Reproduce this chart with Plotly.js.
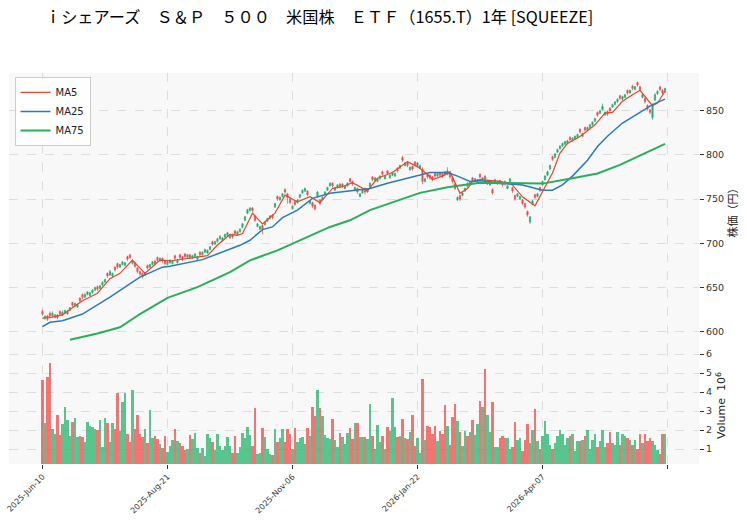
<!DOCTYPE html>
<html>
<head>
<meta charset="utf-8">
<script src="https://cdn.plot.ly/plotly-3.0.1.min.js"></script>
<style>
  html, body { margin: 0; padding: 0; background: #ffffff; }
  #chart { width: 747px; height: 526px; }
</style>
</head>
<body>
<div id="chart"></div>
<script>
// Daily OHLC (yen), one entry per trading day
const openPx = [
623,615,617,621,618,616,619,623,619,621,
620,624,633,629,628,638,642,639,642,641,
644,647,651,649,653,656,666,664,663,673,
677,673,676,675,685,687,677,678,672,668,
666,664,675,673,676,680,684,680,683,680,
676,678,677,686,678,687,685,688,684,687,
683,685,682,690,687,690,689,693,702,699,
702,705,703,707,709,706,710,714,710,713,
718,726,734,737,740,731,719,716,720,721,
725,728,732,741,753,749,753,761,756,750,
739,747,746,752,757,759,759,745,746,743,
753,749,749,755,760,765,768,760,763,767,
764,762,765,773,770,760,762,753,757,762,
758,764,775,771,770,773,781,773,782,774,
777,776,785,785,797,788,791,783,787,792,
788,785,784,770,778,777,775,779,776,780,
779,781,778,779,774,767,749,754,754,759,
768,766,774,770,769,778,771,776,767,766,
761,769,767,771,769,770,762,770,763,754,
753,750,749,745,736,724,744,755,753,763,
766,772,777,784,798,797,803,807,810,812,
813,820,816,818,820,829,821,831,828,831,
834,838,848,847,851,845,849,853,854,857,
860,867,863,865,873,870,878,874,882,877,
865,864,856,851,842,862,869,877,873,871];

const highPx = [
625,619,619,623,623,620,620,624,624,625,
625,628,634,633,632,639,643,644,646,645,
648,651,652,653,657,660,667,670,667,674,
678,677,680,679,686,688,682,679,673,669,
667,668,676,677,680,681,685,684,684,681,
680,682,681,687,682,688,686,689,688,688,
687,689,686,691,691,694,693,697,703,703,
706,709,707,711,713,710,711,715,714,717,
723,731,739,741,741,732,723,720,721,725,
729,732,733,746,754,753,757,762,757,751,
743,748,750,756,761,763,760,749,747,744,
759,750,753,759,764,769,769,764,767,768,
768,766,769,774,771,764,763,757,761,763,
762,769,776,775,774,777,782,777,783,778,
781,780,786,789,799,792,792,787,788,793,
792,789,786,774,779,778,776,780,780,781,
780,782,786,780,775,768,753,755,758,763,
769,770,775,774,773,779,775,777,771,770,
762,773,771,772,770,771,766,774,764,755,
757,754,750,746,737,731,749,756,757,764,
771,777,782,789,799,802,807,811,814,816,
817,821,820,822,824,830,825,832,832,835,
838,842,849,851,858,849,850,854,858,861,
864,868,867,869,874,874,879,878,883,878,
869,865,857,852,858,870,873,878,874,876];

const lowPx = [
618,613,612,616,617,615,614,618,618,620,
619,623,628,628,627,633,637,638,641,640,
643,646,646,648,652,655,661,663,662,668,
671,672,675,674,680,682,676,672,666,663,
660,663,670,672,675,675,679,679,678,675,
675,677,676,681,677,682,680,683,683,682,
682,684,681,685,686,689,688,692,697,698,
701,704,702,706,708,705,705,709,709,712,
717,725,733,736,735,724,718,715,710,720,
724,727,727,740,748,748,752,756,745,744,
738,742,745,751,756,758,753,744,740,737,
752,743,748,754,759,764,763,759,762,762,
763,761,764,768,765,759,756,752,756,755,
757,763,770,770,769,772,776,772,777,773,
776,775,780,784,792,787,786,782,782,787,
787,784,767,769,773,772,770,774,775,775,
774,776,777,773,768,760,748,748,753,758,
763,765,769,769,768,773,770,770,766,765,
755,768,766,766,764,765,761,769,757,748,
752,749,743,739,730,722,743,750,752,758,
765,771,776,783,793,796,802,806,809,811,
812,815,815,817,819,824,820,826,827,830,
833,837,843,846,850,844,844,848,853,856,
859,862,862,864,868,869,873,873,877,872,
864,858,850,846,840,861,868,872,868,870];

const closePx = [
620,617,614,618,621,619,616,620,622,624,
623,627,630,632,631,635,639,642,645,644,
647,650,648,652,656,659,663,668,666,670,
673,676,679,678,682,684,680,674,668,665,
662,667,672,676,679,677,681,683,680,677,
679,681,680,683,681,684,682,685,687,684,
686,688,685,687,690,693,692,696,699,702,
705,708,706,710,712,709,707,711,713,716,
722,730,738,740,737,726,722,719,716,724,
728,731,729,745,750,752,756,758,752,746,
742,744,749,755,760,762,755,748,742,739,
758,745,752,758,763,768,765,763,766,764,
767,765,768,770,767,763,758,756,760,758,
761,768,772,774,773,776,778,776,779,777,
780,779,782,788,794,791,788,786,784,789,
791,788,770,773,775,774,772,776,779,777,
776,778,782,775,770,762,752,750,757,762,
765,769,771,773,772,775,774,772,770,769,
757,772,770,768,766,767,765,773,759,750,
756,753,745,741,732,730,748,752,756,760,
770,776,781,788,795,801,806,810,813,815,
816,817,819,821,823,826,824,828,831,834,
837,841,845,850,855,848,846,850,857,860,
863,864,866,868,870,873,875,877,879,874,
868,860,852,848,856,868,872,874,870,875];

// Daily volume, millions of shares
const volumeM = [
4.63,2.39,4.8,5.54,2.04,1.79,2.79,1.74,2.32,3.19,
2.53,1.68,2.44,2.61,1.65,1.68,1.65,1.39,2.44,2.21,
2.14,2.04,2.0,2.53,1.12,2.61,2.39,1.39,2.35,2.04,
3.96,1.96,3.49,3.93,1.79,1.39,4.1,2.07,2.79,1.79,
1.61,2.04,1.33,3.05,1.58,1.68,1.51,1.26,1.04,1.68,
0.86,1.16,1.47,2.07,1.44,1.30,1.16,0.95,0.98,1.74,
1.51,1.82,1.04,0.77,1.04,0.63,1.79,1.58,1.39,0.95,
1.79,1.16,0.95,1.16,1.61,1.16,0.81,1.68,0.77,1.12,
1.82,1.58,2.14,1.74,1.16,3.14,0.74,0.81,2.09,1.65,
0.98,0.74,0.68,2.04,1.39,1.56,2.04,1.39,2.04,1.79,
0.98,2.09,1.39,1.56,1.61,1.26,2.09,1.68,3.19,2.74,
4.11,3.14,2.74,1.74,1.56,1.51,2.56,1.47,1.09,1.86,
1.61,1.26,1.86,2.09,1.51,2.39,2.35,1.65,1.61,1.61,
1.51,3.37,1.68,0.98,2.26,1.39,1.68,0.98,2.14,1.96,
3.67,2.14,1.61,1.68,2.56,1.56,1.51,1.91,2.79,1.16,
1.56,0.77,4.67,1.47,2.21,2.14,1.79,2.21,1.44,1.96,
1.79,3.32,2.21,1.21,2.67,3.37,2.49,1.91,1.16,1.96,
1.68,1.91,2.53,1.74,2.32,3.54,3.19,5.19,2.8,1.9,
3.5,1.1,1.1,1.6,1.7,1.6,1.6,1.0,1.1,2.4,
1.5,1.6,0.9,1.5,2.3,1.3,2.0,3.1,1.4,1.0,
1.7,2.5,1.8,1.2,1.0,1.3,1.7,2.0,1.8,1.2,
1.6,1.7,1.8,0.9,1.4,1.4,1.5,1.7,2.0,1.0,
1.5,1.8,1.1,1.4,2.0,1.1,1.3,1.9,1.3,1.2,
1.9,1.2,1.8,1.7,1.6,1.5,1.2,1.5,1.0,1.8,
1.3,1.8,1.4,1.6,1.4,1.2,0.95,0.75,1.8,1.8];

// Moving averages (bar index, yen)
const ma5Idx = [0,2,3,8,12,16,22,27,31,36,41,47,51,56,62,66,70,75,78,80,84,88,93,97,102,107,111,116,120,124,130,134,140,146,150,154,156,160,163,167,170,172,175,183,188,192,197,200,204,207,210,214,216,221,225,228,232,236,239,244,246,249];
const ma5Val = [615,617,616,619,627,635,643.5,660,666,681,666,681,680,682,684,686,698,710,709,711,734,722,734,754.5,747,752.6,746,762,764,768.6,759.5,773.5,780,792.4,786.7,778,772,776,781,756.5,762,769.7,772,770,766,752.6,742.4,758,779.5,802,813,819,822.7,834,847.3,848,860.6,868,873,855.7,858.7,872];

const ma25Idx = [0,3,8,16,27,35,39,48,51,64,70,75,79,83,88,92,96,102,108,115,126,131,138,150,155,162,166,171,175,183,192,200,204,208,212,218,222,226,232,239,244,249];
const ma25Val = [605.7,610.6,612.5,620,639,654,661.7,673,674,681.5,688,694,697.7,703.4,715.5,718.5,729,737.5,750.8,756.5,760,762,768,776,780,780,776,770,771,768,766,760,760,766,776,794,809.5,821,836,848,856.8,863];

const ma75Idx = [11,22,31,39,50,62,75,83,94,115,123,131,151,162,175,190,200,212,222,231,249];
const ma75Val = [591,598,605,620,638.3,650.4,667.4,680.7,692,718.5,726,737.5,757,763.3,768.6,768,767.5,773.5,779,788.6,812.5];

// Date axis labels every 50 sessions; one more unlabeled tick closes the year
const tickIdx = [0, 50, 100, 150, 200];
const tickText = ['2025-Jun-10', '2025-Aug-21', '2025-Nov-06', '2026-Jan-22', '2026-Apr-07'];
const tailTickIdx = [250];

const barIdx = closePx.map((_, i) => i);
const UP = '#22b06c', DOWN = '#f04a4a';
const volColors = closePx.map((c, i) => c >= openPx[i] ? 'rgba(46,184,114,0.8)' : 'rgba(242,82,82,0.8)');

const GRID = '#d6d6d6';
const TICKFONT = { family: 'DejaVu Sans', size: 9.5, color: '#333333' };

const traces = [
  {
    type: 'candlestick', x: barIdx, open: openPx, high: highPx, low: lowPx, close: closePx,
    xaxis: 'x', yaxis: 'y', showlegend: false, hoverinfo: 'skip',
    increasing: { line: { color: UP, width: 0.7 }, fillcolor: UP },
    decreasing: { line: { color: DOWN, width: 0.7 }, fillcolor: DOWN },
    whiskerwidth: 0
  },
  {
    type: 'scatter', mode: 'lines', name: 'MA5', x: ma5Idx, y: ma5Val,
    xaxis: 'x', yaxis: 'y', line: { color: '#e8452f', width: 1.2 }
  },
  {
    type: 'scatter', mode: 'lines', name: 'MA25', x: ma25Idx, y: ma25Val,
    xaxis: 'x', yaxis: 'y', line: { color: '#2b7bba', width: 1.5 }
  },
  {
    type: 'scatter', mode: 'lines', name: 'MA75', x: ma75Idx, y: ma75Val,
    xaxis: 'x', yaxis: 'y', line: { color: '#2aae5a', width: 2 }
  },
  {
    type: 'bar', x: barIdx, y: volumeM, xaxis: 'x', yaxis: 'y2',
    marker: { color: volColors, line: { width: 0 } }, width: 0.9,
    showlegend: false, hoverinfo: 'skip'
  }
];

const split = (464 - 347) / 391;

const layout = {
  width: 747, height: 526,
  margin: { l: 8.5, r: 47.5, t: 73, b: 62 },
  paper_bgcolor: '#ffffff',
  plot_bgcolor: '#f8f8f8',
  hovermode: false,
  bargap: 0,
  title: {
    text: 'ｉシェアーズ　Ｓ＆Ｐ　５００　米国株　ＥＴＦ（1655.T）1年 [SQUEEZE]',
    font: { family: 'Noto Sans CJK JP', size: 16.2, color: '#000000' },
    xref: 'container', x: 45 / 747, xanchor: 'left',
    yref: 'container', y: 1 - 17 / 526, yanchor: 'middle'
  },
  xaxis: {
    range: [-13.38, 262.6],
    anchor: 'y2',
    tickmode: 'array', tickvals: tickIdx, ticktext: tickText,
    tickangle: -45, tickfont: { family: 'DejaVu Sans', size: 8, color: '#333333' },
    ticks: 'outside', ticklen: 4, tickcolor: '#333333', tickwidth: 1,
    showgrid: true, gridcolor: GRID, griddash: 'dash', gridwidth: 0.8,
    minor: {
      tickmode: 'array', tickvals: tailTickIdx,
      ticks: 'outside', ticklen: 4, tickcolor: '#333333', tickwidth: 1,
      showgrid: true, gridcolor: GRID, griddash: 'dash', gridwidth: 0.8
    },
    showline: false, zeroline: false,
    rangeslider: { visible: false }
  },
  yaxis: {
    domain: [split, 1], anchor: 'x', side: 'right',
    range: [582.7, 892.6],
    tickmode: 'array', tickvals: [600, 650, 700, 750, 800, 850],
    tickfont: TICKFONT, ticks: 'outside', ticklen: 4, tickcolor: '#333333',
    showgrid: true, gridcolor: GRID, griddash: 'dash', gridwidth: 0.8,
    zeroline: false, showline: false,
    title: { text: '株価（円）', font: { family: 'Noto Sans CJK JP', size: 11, color: '#222222' }, standoff: 6 }
  },
  yaxis2: {
    domain: [0, split], anchor: 'x', side: 'right',
    range: [0.21, 6.37],
    tickmode: 'array', tickvals: [1, 2, 3, 4, 5, 6],
    tickfont: TICKFONT, ticks: 'outside', ticklen: 4, tickcolor: '#333333',
    showgrid: true, gridcolor: GRID, griddash: 'dash', gridwidth: 0.8,
    zeroline: false, showline: false,
    title: { text: 'Volume  10<sup>6</sup>', font: { family: 'DejaVu Sans', size: 11, color: '#222222' }, standoff: 6 }
  },
  legend: {
    x: 0.008, y: 0.99, xanchor: 'left', yanchor: 'top',
    bgcolor: 'rgba(255,255,255,0.85)', bordercolor: '#cccccc', borderwidth: 1,
    font: { family: 'DejaVu Sans', size: 10, color: '#222222' },
    tracegroupgap: 0, itemwidth: 30
  }
};

Plotly.newPlot('chart', traces, layout, { displayModeBar: false, staticPlot: true });
</script>
</body>
</html>
